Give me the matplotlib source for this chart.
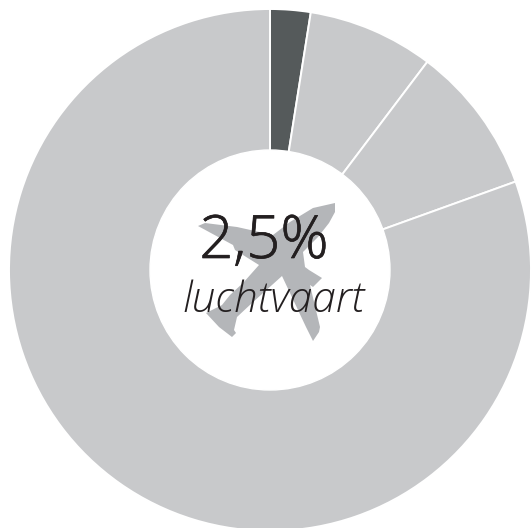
import numpy as np
import matplotlib
matplotlib.use("Agg")
import matplotlib.pyplot as plt
import matplotlib.patheffects as pe
from matplotlib.patches import Circle, Polygon

# share per sector, clockwise from the top
sectors = ["luchtvaart", "b", "c", "d"]
shares = [2.5, 7.8, 9.2, 80.5]
colors = ["#555a5b", "#c8c9cb", "#c8c9cb", "#c8c9cb"]

big_label = "2,5%"
small_label = "luchtvaart"

# plane icon outline in pixels
plane_px = [
    (335, 203), (335, 212), (329, 223), (318, 237), (303, 252), (305, 267),
    (309, 270), (322, 278), (313, 287), (310, 285), (320, 327), (319, 332),
    (313, 341), (306, 327), (282, 276), (252, 303), (237, 317), (234, 330),
    (236, 333), (232, 337), (219, 327), (206, 313), (222, 305), (230, 295),
    (243, 283), (259, 265), (235, 250), (233, 245), (198, 226), (205, 223),
    (237, 227), (273, 235), (290, 222), (313, 208),
]

W, H = 531, 528
cx, cy = 270, 258


def main():
    fig = plt.figure(figsize=(W / 100, H / 100), dpi=100)
    ax = fig.add_axes([0, 0, 1, 1])

    ax.pie(
        shares,
        colors=colors,
        center=(cx, cy),
        radius=261,
        startangle=90,
        counterclock=False,
        wedgeprops={"edgecolor": "white", "linewidth": 1.4},
        frame=True,
    )
    ax.set_xlim(0, W)
    ax.set_ylim(0, H)
    ax.set_aspect("equal")
    ax.axis("off")

    ax.add_patch(Circle((cx, cy), 120, color="white", zorder=3))
    plane = np.array(plane_px, dtype=float)
    plane[:, 1] = H - plane[:, 1]
    ax.add_patch(Polygon(plane, closed=True, color="#b4b6b9", lw=0, zorder=4))

    # a thin stroke, the reference text is a bit heavier than Open Sans Light
    thicker = [pe.withStroke(linewidth=0.5, foreground="#231f20")]
    ax.text(264, H - 258, big_label, fontsize=43, family="Open Sans", fontweight="light",
            color="#231f20", ha="center", va="baseline", zorder=5, path_effects=thicker)
    ax.text(273, H - 312, small_label, fontsize=30.5, family="Open Sans", fontweight="light",
            style="italic", color="#231f20", ha="center", va="baseline", zorder=5)

    fig.savefig("out.png", dpi=100, facecolor="white")


if __name__ == "__main__":
    main()
